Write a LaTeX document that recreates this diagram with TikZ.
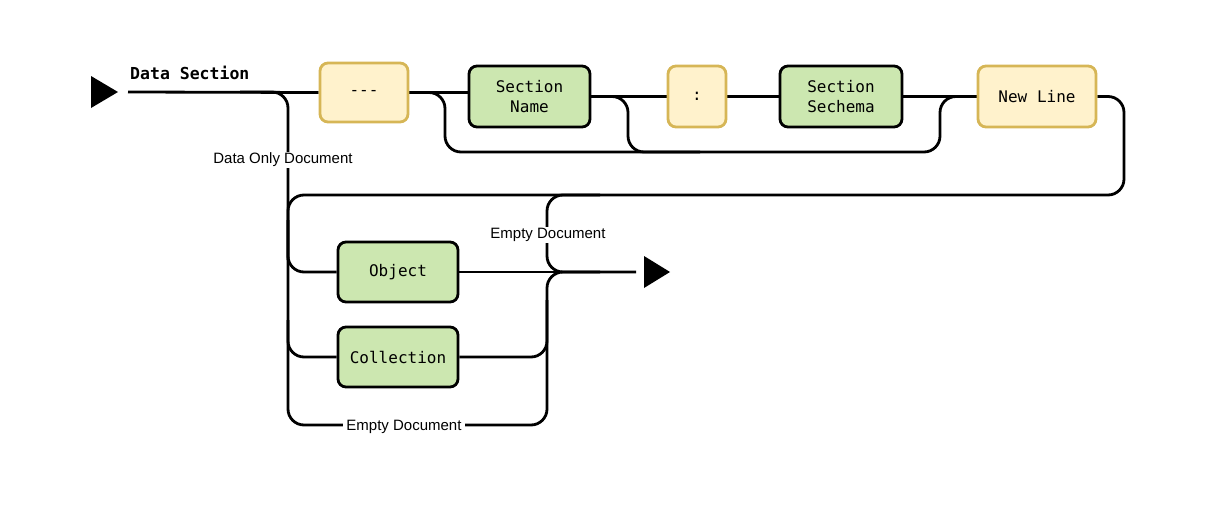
\documentclass[tikz,border=0pt]{standalone}
\usepackage{fontspec}
\usetikzlibrary{backgrounds}
\setmainfont{Liberation Sans}
\newfontfamily\boxmono{DejaVu Sans Mono}
\definecolor{gfill}{HTML}{CCE7B0}
\definecolor{yfill}{HTML}{FFF2CC}
\definecolor{ydraw}{HTML}{D6B656}
\begin{document}
\begin{tikzpicture}[x=1pt,y=-1pt,
  conn/.style={line width=2.8pt, rounded corners=16pt},
  greenbox/.style={draw=black, fill=gfill, line width=2.8pt, rounded corners=8pt, align=center,
    font=\boxmono\fontsize{16}{20}\selectfont, inner sep=0pt},
  yellowbox/.style={draw=ydraw, fill=yfill, line width=2.8pt, rounded corners=8pt, align=center,
    font=\boxmono\fontsize{16}{20}\selectfont, inner sep=0pt},
  lbl/.style={fill=white, inner xsep=3pt, inner ysep=1.5pt, font=\fontsize{15}{18}\selectfont},
  tri/.style={fill=black}]
\useasboundingbox (0,0) rectangle (1215,506);

% nodes
\node[yellowbox, minimum width=88pt, minimum height=59pt] (dash) at (364,92.5) {-{}-{}-};
\node[greenbox, minimum width=121pt, minimum height=61pt] (secname) at (529.5,96.5) {Section\\Name};
\node[yellowbox, minimum width=58pt, minimum height=61pt] (colon) at (697,96.5) {:};
\node[greenbox, minimum width=122pt, minimum height=61pt] (schema) at (841,96.5) {Section\\Sechema};
\node[yellowbox, minimum width=118pt, minimum height=61pt] (newline) at (1037,96.5) {New Line};
\node[greenbox, minimum width=120pt, minimum height=60pt] (object) at (398,272) {Object};
\node[greenbox, minimum width=120pt, minimum height=60pt] (collection) at (398,357) {Collection};

\node[font=\boxmono\bfseries\fontsize{16.5}{20}\selectfont, anchor=base west, inner sep=0pt] (title) at (130,79) {Data Section};

% start / end triangles
\coordinate (start) at (128,92);
\coordinate (endpt) at (636,272);
\fill[tri] (91,76) -- (118,92) -- (91,108) -- cycle;
\fill[tri] (644,256) -- (670,272) -- (644,288) -- cycle;

% connectors
\begin{pgfonlayer}{background}
\draw[conn] (start) -- (dash.west);
\draw[conn] (dash.east) -- (secname.west |- dash.east);
\draw[conn] (secname.east) -- (colon.west);
\draw[conn] (colon.east) -- (schema.west);
\draw[conn] (schema.east) -- (newline.west);
% top bypass
\draw[conn] (dash.east) -| (445,152) -| (940,96.5) -- (newline.west);
\draw[conn] (secname.east) -| (628,152) -- (700,152);
% data only document vertical
\draw[conn] (240,92) -| (288,425) -| (547,272) -- (endpt);
% loop back
\draw[conn] (newline.east) -| (1124,195) -| (288,260);
\draw[conn] (288,220) |- (object.west);
\draw[conn] (288,320) |- (collection.west);
\draw[conn] (object.east) -- (endpt);
\draw[conn] (collection.east) -| (547,300);
\draw[conn] (600,195) -| (547,272) -- (600,272);
\end{pgfonlayer}

% labels
\node[lbl] (l1) at (283,160) {Data Only Document};
\node[lbl] (l2) at (548,235) {Empty Document};
\node[lbl] (l3) at (404,427) {Empty Document};
\end{tikzpicture}
\end{document}
